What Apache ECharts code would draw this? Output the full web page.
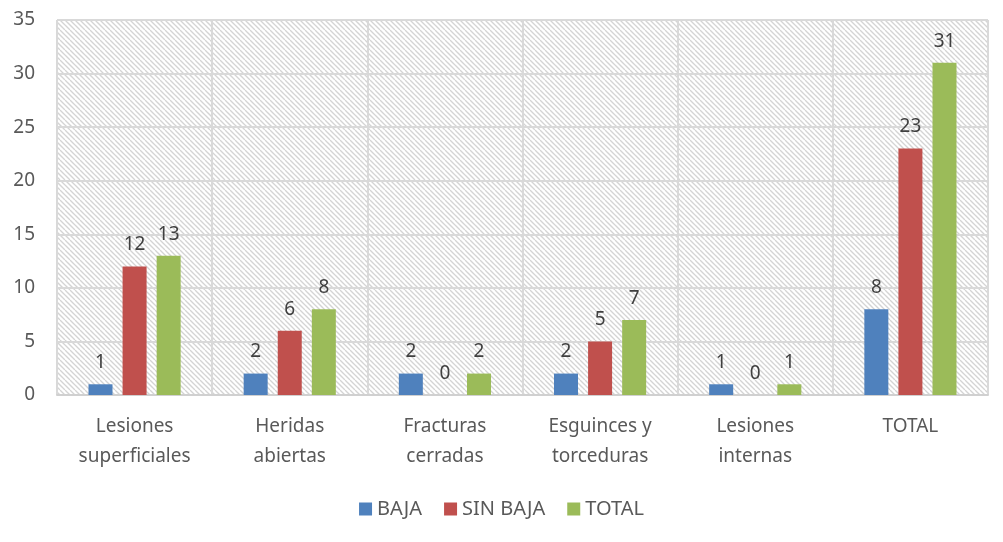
<!DOCTYPE html>
<html>
<head>
<meta charset="utf-8">
<script src="https://cdn.jsdelivr.net/npm/echarts@6/dist/echarts.min.js"></script>
<style>
  html, body { margin: 0; padding: 0; background: #fff; }
  #app { width: 1003px; height: 542px; }
</style>
</head>
<body>
<div id="app"></div>
<script>
const categories = ["Lesiones\nsuperficiales", "Heridas\nabiertas", "Fracturas\ncerradas", "Esguinces y\ntorceduras", "Lesiones\ninternas", "TOTAL"];
const baja = [1, 2, 2, 2, 1, 8];
const sinBaja = [12, 6, 0, 5, 0, 23];
const total = [13, 8, 2, 7, 1, 31];

// diagonal hatch for plot background
const hatch = document.createElement("canvas");
hatch.width = 10;
hatch.height = 10;
const ctx = hatch.getContext("2d");
ctx.fillStyle = "#fff";
ctx.fillRect(0, 0, 10, 10);
ctx.strokeStyle = "#d4d4d4";
ctx.lineWidth = 1.3;
for (let k = -10; k <= 10; k += 5) {
  ctx.beginPath();
  ctx.moveTo(k, 0);
  ctx.lineTo(k + 10, 10);
  ctx.stroke();
}

const myChart = echarts.init(document.getElementById("app"));
const font = "'Noto Sans', sans-serif";

const barLabel = {
  show: true,
  position: "top",
  distance: 12,
  color: "#404040",
  fontSize: 19,
  fontFamily: font,
};

const option = {
  animation: false,
  grid: {
    left: 57,
    right: 15,
    top: 20,
    bottom: 147,
    show: true,
    borderWidth: 0,
    backgroundColor: { image: hatch, repeat: "repeat" },
  },
  legend: {
    bottom: 18,
    left: "center",
    itemWidth: 13,
    itemHeight: 13,
    itemGap: 22,
    icon: "rect",
    textStyle: { color: "#595959", fontSize: 20, fontFamily: font },
  },
  xAxis: {
    type: "category",
    data: categories,
    axisTick: { show: false },
    axisLine: { lineStyle: { color: "#d0d0d0", width: 2 } },
    splitLine: { show: true, lineStyle: { color: "#d9d9d9", width: 2 } },
    axisLabel: {
      color: "#595959",
      fontSize: 19,
      fontFamily: font,
      lineHeight: 30,
      margin: 17,
      interval: 0,
    },
  },
  yAxis: {
    type: "value",
    min: 0,
    max: 35,
    interval: 5,
    axisLine: { show: false },
    axisTick: { show: false },
    splitLine: { lineStyle: { color: "#d9d9d9", width: 2 } },
    axisLabel: { color: "#595959", fontSize: 19, fontFamily: font, margin: 22 },
  },
  series: [
    { name: "BAJA", type: "bar", data: baja, barWidth: 24, barGap: "42%", itemStyle: { color: "#4F81BD" }, label: barLabel },
    { name: "SIN BAJA", type: "bar", data: sinBaja, barWidth: 24, barGap: "42%", itemStyle: { color: "#C0504D" }, label: barLabel },
    { name: "TOTAL", type: "bar", data: total, barWidth: 24, barGap: "42%", itemStyle: { color: "#9BBB59" }, label: barLabel },
  ],
};
myChart.setOption(option);
</script>
</body>
</html>
